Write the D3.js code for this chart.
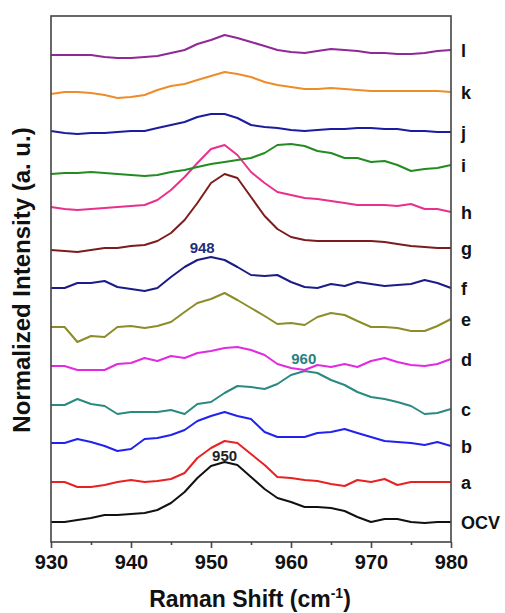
<!DOCTYPE html>
<html>
<head>
<meta charset="utf-8">
<script src="https://cdn.jsdelivr.net/npm/d3@7"></script>
<style>
  body { margin: 0; background: #fff; }
  text { font-family: "Liberation Sans", Arial, sans-serif; font-weight: bold; }
</style>
</head>
<body>
<svg id="chart" width="505" height="613"></svg>
<script>
// Raman shift grid (cm-1)
var shift = [930, 931.7, 933.3, 935, 936.7, 938.3, 940, 941.7, 943.3, 945, 946.7, 948.3, 950, 951.7, 953.3,
  955, 956.7, 958.3, 960, 961.7, 963.3, 965, 966.7, 968.3, 970, 971.7, 973.3, 975, 976.7, 978.3, 980];

// stacked normalized intensities (a. u.), bottom to top
var ocv = [20, 20, 22, 24, 27, 27, 28, 29, 32, 39, 50, 64, 76, 80, 77, 65, 53, 44, 40, 35, 35, 34, 31, 25, 20, 23, 23, 20, 19, 20, 20];
var sa = [60, 60, 55, 55, 57, 60, 62, 60, 61, 63, 69, 84, 94, 101, 99, 88, 77, 65, 64, 62, 61, 58, 56, 62, 60, 63, 57, 60, 60, 60, 60];
var sb = [99, 99, 103, 100, 96, 91, 93, 103, 104, 107, 112, 121, 126, 130, 126, 123, 110, 105, 105, 105, 109, 110, 113, 109, 105, 101, 100, 99, 97, 100, 96];
var sc = [137, 137, 143, 138, 136, 128, 130, 130, 130, 132, 128, 138, 140, 149, 156, 155, 153, 158, 167, 171, 169, 162, 157, 150, 145, 143, 140, 136, 128, 129, 133];
var sd = [176, 176, 172, 172, 172, 178, 179, 184, 181, 186, 184, 189, 191, 194, 195, 192, 187, 178, 174, 172, 177, 175, 178, 175, 181, 184, 180, 177, 176, 178, 183];
var se = [215, 215, 200, 206, 205, 215, 216, 214, 216, 220, 230, 239, 243, 249, 242, 234, 226, 218, 219, 217, 225, 229, 227, 221, 215, 215, 214, 211, 211, 216, 223];
var sf = [254, 254, 259, 259, 261, 255, 253, 251, 254, 265, 275, 282, 285, 282, 275, 267, 266, 267, 260, 255, 254, 258, 256, 260, 258, 256, 257, 258, 262, 259, 254];
var sg = [292, 291, 290, 292, 294, 294, 296, 297, 301, 309, 322, 339, 359, 368, 364, 345, 326, 313, 305, 302, 301, 301, 301, 301, 301, 300, 298, 296, 295, 294, 294];
var sh = [335, 333, 332, 333, 334, 335, 336, 337, 342, 352, 365, 379, 393, 397, 387, 370, 359, 350, 347, 344, 343, 341, 339, 337, 337, 337, 336, 338, 333, 333, 330];
var si = [368, 369, 369, 370, 369, 368, 367, 366, 367, 370, 372, 375, 378, 380, 382, 384, 389, 397, 398, 396, 391, 389, 384, 384, 380, 381, 377, 371, 373, 374, 377];
var sj = [411, 409, 408, 409, 409, 410, 411, 411, 414, 417, 420, 425, 428, 428, 424, 417, 415, 414, 412, 411, 412, 413, 413, 414, 414, 413, 413, 411, 411, 410, 410];
var sk = [448, 450, 450, 449, 447, 444, 445, 447, 452, 456, 458, 462, 466, 470, 468, 465, 460, 457, 455, 453, 453, 454, 453, 452, 451, 451, 451, 451, 451, 451, 450];
var sl = [487, 487, 487, 487, 485, 484, 484, 485, 486, 489, 492, 498, 502, 507, 504, 500, 496, 492, 490, 489, 491, 493, 492, 491, 489, 489, 488, 488, 489, 491, 492];

var names = ["OCV", "a", "b", "c", "d", "e", "f", "g", "h", "i", "j", "k", "l"];
var series = [ocv, sa, sb, sc, sd, se, sf, sg, sh, si, sj, sk, sl];
var colors = ["#111111", "#e82222", "#2222ee", "#2a8a82", "#e22ae2", "#8c8c2a", "#1c1c88", "#7c1c1c", "#e8308c", "#228c22", "#1c1ca0", "#ee8c2a", "#902896"];

// peak annotations
var annoText = ["950", "948", "960"];
var annoShift = [951.7, 948.9, 961.6];
var annoValue = [86, 294, 183];
var annoColor = ["#222222", "#1f2d7a", "#2a8080"];

var xTicks = [930, 940, 950, 960, 970, 980];
var xMinor = [935, 945, 955, 965, 975];

var margin = {top: 16, right: 54, bottom: 71, left: 51},
    width = 505 - margin.left - margin.right,
    height = 613 - margin.top - margin.bottom;

var svg = d3.select("#chart");
var g = svg.append("g").attr("transform", "translate(" + margin.left + "," + margin.top + ")");

var x = d3.scaleLinear().domain([930, 980]).range([0, width]);
var y = d3.scaleLinear().domain([0, 526]).range([height, 0]);

var line = d3.line()
    .x(function(d, i) { return x(shift[i]); })
    .y(function(d) { return y(d); });

series.forEach(function(s, k) {
  g.append("path")
    .attr("d", line(s))
    .attr("fill", "none")
    .attr("stroke", colors[k])
    .attr("stroke-width", 2)
    .attr("stroke-linejoin", "round");

  // series label at the right of the frame
  g.append("text")
    .attr("x", width + 10)
    .attr("y", y(s[s.length - 1]))
    .attr("dy", "0.38em")
    .attr("font-size", 18)
    .attr("fill", "#111")
    .text(names[k]);
});

annoText.forEach(function(t, i) {
  g.append("text")
    .attr("x", x(annoShift[i]))
    .attr("y", y(annoValue[i]))
    .attr("dy", "0.35em")
    .attr("text-anchor", "middle")
    .attr("font-size", 15)
    .attr("fill", annoColor[i])
    .text(t);
});

// frame
g.append("rect")
  .attr("width", width)
  .attr("height", height)
  .attr("fill", "none")
  .attr("stroke", "#444")
  .attr("stroke-width", 1.6);

// x axis
var xAxis = g.append("g")
  .attr("transform", "translate(0," + height + ")")
  .call(d3.axisBottom(x).tickValues(xTicks).tickSize(6).tickFormat(d3.format("d")));
xAxis.select(".domain").remove();
xAxis.selectAll("line").attr("stroke", "#444").attr("stroke-width", 1.6);
xAxis.selectAll("text")
  .attr("font-size", 20)
  .attr("fill", "#111")
  .attr("font-family", "Liberation Sans, Arial, sans-serif")
  .attr("y", 13);

var xMinorAxis = g.append("g")
  .attr("transform", "translate(0," + height + ")")
  .call(d3.axisBottom(x).tickValues(xMinor).tickSize(3).tickFormat(""));
xMinorAxis.select(".domain").remove();
xMinorAxis.selectAll("line").attr("stroke", "#444").attr("stroke-width", 1.6);

// axis titles
var xt = svg.append("text")
  .attr("x", 250)
  .attr("y", 607)
  .attr("text-anchor", "middle")
  .attr("font-size", 23)
  .attr("fill", "#111");
xt.append("tspan").text("Raman Shift (cm");
xt.append("tspan").attr("dy", -9).attr("font-size", 14).text("-1");
xt.append("tspan").attr("dy", 9).text(")");

svg.append("text")
  .attr("transform", "translate(30,280) rotate(-90)")
  .attr("text-anchor", "middle")
  .attr("font-size", 24)
  .attr("fill", "#111")
  .text("Normalized Intensity (a. u.)");
</script>
</body>
</html>
